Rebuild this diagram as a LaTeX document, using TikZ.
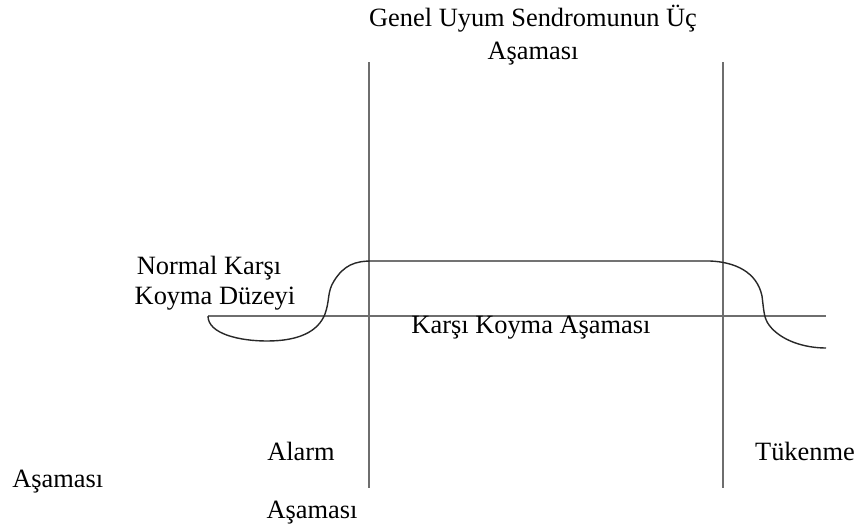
\documentclass[tikz,border=0pt]{standalone}
\usepackage{fontspec}
\setmainfont{Liberation Serif}
\usepackage{tikz}
\usetikzlibrary{calc}
\usepackage{xcolor}
\definecolor{axisgray}{RGB}{110, 110, 110}
\definecolor{curvedark}{RGB}{40, 40, 40}
\tikzset{
  lbl/.style={font=\fontsize{13.2}{15}\selectfont, inner sep=0pt},
  phaseline/.style={axisgray, line width=1pt},
  baseline/.style={axisgray, line width=0.6pt},
  response/.style={curvedark, line width=0.7pt}
}

\begin{document}
\begin{tikzpicture}[x=0.5pt, y=-0.5pt]
  \useasboundingbox (0, 0) rectangle (858, 525);

  % Başlık
  \node[lbl] (title1) at (533, 19) {Genel Uyum Sendromunun Üç};
  \node[lbl] (title2) at (533, 54) {Aşaması};

  % Aşama sınırları
  \draw[phaseline] (369, 62) -- (369, 488);
  \draw[phaseline] (723, 62) -- (723, 488);

  % Normal düzey
  \draw[baseline] (208, 316) -- (826, 316);

  % Karşı koyma eğrisi
  \draw[response] (208, 316) .. controls (208, 334) and (240, 341) .. (267, 341)
    .. controls (298, 341) and (318, 332) .. (325, 314)
    .. controls (330, 300) and (327, 292) .. (334, 281)
    .. controls (344, 265) and (355, 261) .. (372, 261)
    -- (710, 261)
    .. controls (735, 262) and (757, 272) .. (762, 296)
    .. controls (764, 312) and (764, 318) .. (769, 325)
    .. controls (781, 341) and (805, 348) .. (826, 348);

  % Etiketler
  \node[lbl] (normal1) at (209, 268) {Normal Karşı};
  \node[lbl] (normal2) at (215, 299) {Koyma Düzeyi};
  \node[lbl] (resist) at (531, 328) {Karşı Koyma Aşaması};
  \node[lbl] (alarm1) at (301, 451) {Alarm};
  \node[lbl, anchor=west] (alarm2) at (12, 482) {Aşaması};
  \node[lbl] (alarm3) at (312, 513) {Aşaması};
  \node[lbl] (exhaust) at (805, 451) {Tükenme};
\end{tikzpicture}
\end{document}
